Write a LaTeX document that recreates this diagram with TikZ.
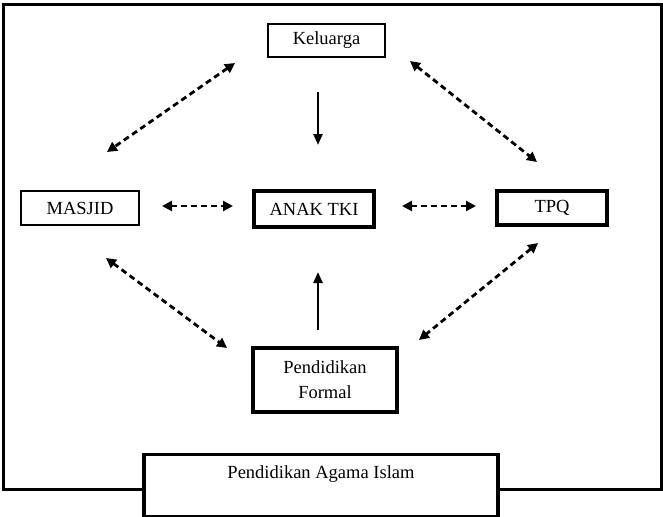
\documentclass[tikz,border=0pt]{standalone}
\usepackage{fontspec}
\setmainfont{Liberation Serif}
\usetikzlibrary{arrows.meta}
\begin{document}
\begin{tikzpicture}[x=1pt,y=-1pt,
  box/.style={draw=black,rectangle,inner sep=0pt,font=\fontsize{18.5}{25}\selectfont,align=center,fill=white},
  dasharrow/.style={line width=2.8pt,dash pattern=on 6pt off 4pt,{Triangle[length=10pt,width=10pt]}-{Triangle[length=10pt,width=10pt]}},
  solidarrow/.style={line width=2.4pt,-{Triangle[length=11pt,width=9pt]}}]
\useasboundingbox (0,0) rectangle (663,516);
% outer frame
\draw[line width=3pt] (3,5) rectangle (661,489);
% boxes
\node[box,line width=2.4pt,minimum width=117pt,minimum height=33pt] (kel) at (326.5,40.5) {Keluarga};
\node[box,line width=2.6pt,minimum width=118pt,minimum height=34pt] (mas) at (80,208) {MASJID};
\node[box,line width=3.2pt,minimum width=120pt,minimum height=36pt] (anak) at (314,209) {ANAK TKI};
\node[box,line width=3.4pt,minimum width=110pt,minimum height=34pt] (tpq) at (552,208) {TPQ};
\node[box,line width=3.2pt,minimum width=144pt,minimum height=64pt] (formal) at (325,380) {Pendidikan\\Formal};
\node[box,line width=3.2pt,anchor=north,minimum width=354pt,text height=24pt,text depth=38pt] (agama) at (321,453) {Pendidikan Agama Islam};
% arrow end points
\coordinate (km1) at (235,63);   \coordinate (km2) at (107,152);
\coordinate (kt1) at (410,61);   \coordinate (kt2) at (537,162);
\coordinate (mf1) at (106,258);  \coordinate (mf2) at (227,348);
\coordinate (tf1) at (538,243);  \coordinate (tf2) at (419,340);
\coordinate (ma1) at (162,206);  \coordinate (ma2) at (233,206);
\coordinate (at1) at (402,206);  \coordinate (at2) at (476,206);
\coordinate (ka1) at (318,92);   \coordinate (ka2) at (318,145);
\coordinate (fa1) at (318,330);  \coordinate (fa2) at (318,272);
% connectors
\draw[dasharrow] (km1) -- (km2);
\draw[dasharrow] (kt1) -- (kt2);
\draw[dasharrow] (mf1) -- (mf2);
\draw[dasharrow] (tf1) -- (tf2);
\draw[dasharrow] (ma1) -- (ma2);
\draw[dasharrow] (at1) -- (at2);
\draw[solidarrow] (ka1) -- (ka2);
\draw[solidarrow] (fa1) -- (fa2);
\end{tikzpicture}
\end{document}
